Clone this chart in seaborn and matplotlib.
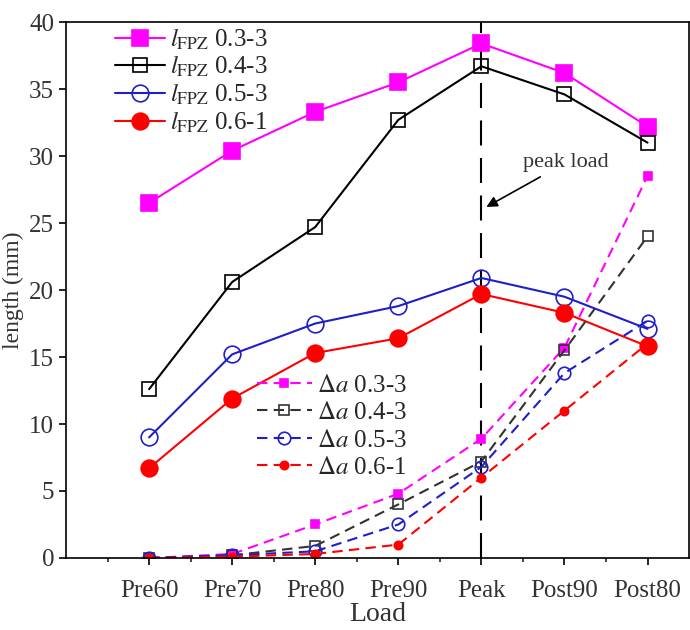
import seaborn as sns
import matplotlib.pyplot as plt
import pandas as pd

# load stages
loads = ["Pre60", "Pre70", "Pre80", "Pre90", "Peak", "Post90", "Post80"]

# FPZ length (mm)
lfpz_03 = [26.5, 30.4, 33.3, 35.5, 38.4, 36.2, 32.2]
lfpz_04 = [12.6, 20.6, 24.7, 32.7, 36.7, 34.6, 31.0]
lfpz_05 = [9.0, 15.2, 17.5, 18.8, 20.9, 19.5, 17.1]
lfpz_06 = [6.7, 11.9, 15.3, 16.4, 19.7, 18.3, 15.8]

# crack extension (mm)
da_03 = [0.0, 0.3, 2.5, 4.8, 8.9, 15.7, 28.5]
da_04 = [0.0, 0.2, 0.9, 4.0, 7.2, 15.5, 24.0]
da_05 = [0.0, 0.2, 0.5, 2.5, 6.8, 13.8, 17.7]
da_06 = [0.0, 0.1, 0.3, 1.0, 6.0, 11.0, 16.0]

sns.set_style("ticks")
plt.rcParams['font.family'] = ['Liberation Serif', 'DejaVu Serif']
plt.rcParams['mathtext.fontset'] = 'stix'

fig = plt.figure(figsize=(6.9, 6.3), dpi=100)
ax = fig.add_axes([0.0957, 0.1143, 0.9029, 0.8507])

solid = [
    (lfpz_03, "magenta", "s", 12, "magenta", r"$l_{\rm FPZ}$ 0.3-3"),
    (lfpz_04, "black", "s", 10, "none", r"$l_{\rm FPZ}$ 0.4-3"),
    (lfpz_05, "#1f1fc8", "o", 12, "none", r"$l_{\rm FPZ}$ 0.5-3"),
    (lfpz_06, "red", "o", 12, "red", r"$l_{\rm FPZ}$ 0.6-1"),
]
dashed = [
    (da_03, "magenta", "s", 6, "magenta", r"$\Delta a$ 0.3-3"),
    (da_04, "#333333", "s", 7, "none", r"$\Delta a$ 0.4-3"),
    (da_05, "#1f1fc8", "o", 9, "none", r"$\Delta a$ 0.5-3"),
    (da_06, "red", "o", 6, "red", r"$\Delta a$ 0.6-1"),
]

h1, h2 = [], []
for vals, c, m, ms, fc, lab in solid:
    df = pd.DataFrame({'load': loads, 'len': vals})
    sns.lineplot(data=df, x='load', y='len', ax=ax, sort=False, color=c,
                 marker=m, markersize=ms, markerfacecolor=fc,
                 markeredgecolor=c, markeredgewidth=1.2, linewidth=1.5)
    h1.append(ax.lines[-1])
for vals, c, m, ms, fc, lab in dashed:
    df = pd.DataFrame({'load': loads, 'len': vals})
    sns.lineplot(data=df, x='load', y='len', ax=ax, sort=False, color=c,
                 marker=m, markersize=ms, markerfacecolor=fc,
                 markeredgecolor=c, markeredgewidth=1.2, linewidth=1.5,
                 dashes=False, linestyle=(0, (5, 3)))
    h2.append(ax.lines[-1])

ax.axvline(4, color='black', linewidth=1.5, linestyle=(0, (12, 6)), zorder=1)
ax.annotate("peak load", xy=(4.06, 26.2), xytext=(4.5, 29.5),
            fontsize=16, va='center', ha='left', color='#333333',
            arrowprops=dict(arrowstyle='-|>', color='black', lw=1.2,
                            shrinkA=2, shrinkB=0))

leg1 = ax.legend(h1, [s[5] for s in solid], loc='upper left',
                 bbox_to_anchor=(0.055, 1.02), frameon=False, fontsize=18,
                 handlelength=2.0, labelspacing=0.1, handletextpad=0.2,
                 borderaxespad=0.2)
ax.add_artist(leg1)
ax.legend(h2, [s[5] for s in dashed], loc='upper left',
          bbox_to_anchor=(0.27, 0.385), frameon=False, fontsize=18,
          handlelength=2.2, labelspacing=0.2, handletextpad=0.2)

ax.set_xlim(-1.0, 6.5)
ax.set_ylim(0, 40)
ax.set_yticks(range(0, 41, 5))
ax.set_xticks([i + 0.5 for i in range(-1, 6)], minor=True)
ax.tick_params(axis='both', which='major', labelsize=18, direction='out',
               length=5, width=1.2, color='black', labelcolor='#333333')
ax.tick_params(axis='x', which='major', pad=11)
ax.tick_params(axis='x', which='minor', direction='out', length=3, width=1.2)
ax.set_xlabel("Load", fontsize=20, color='#333333')
ax.set_ylabel("length (mm)", fontsize=17, color='#333333')
ax.xaxis.set_label_coords(0.5, -0.082)
ax.yaxis.set_label_coords(-0.068, 0.5)
for sp in ax.spines.values():
    sp.set_color('black')
    sp.set_linewidth(1.2)

fig.savefig("out.png", dpi=100)
